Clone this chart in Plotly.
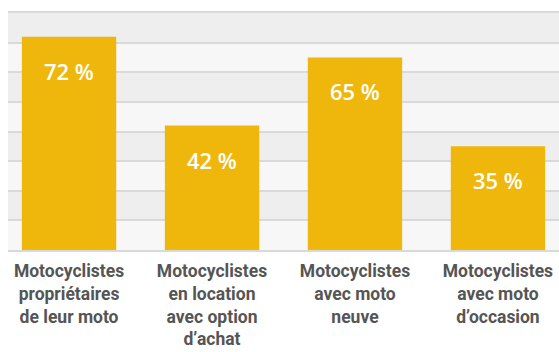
import plotly.graph_objects as go

# Share of motorcyclists by situation (%)
categories = [
    "Motocyclistes<br>propriétaires<br>de leur moto",
    "Motocyclistes<br>en location<br>avec option<br>d’achat",
    "Motocyclistes<br>avec moto<br>neuve",
    "Motocyclistes<br>avec moto<br>d’occasion",
]
values = [72, 42, 65, 35]
value_labels = [f"{v} %" for v in values]

BAR = "#efb70c"
GRID = "#d9d9d9"
BAND_DARK = "#eeeeee"
BAND_LIGHT = "#f7f7f7"
LABEL_FONT = "Roboto, sans-serif"

x = list(range(len(categories)))

fig = go.Figure(
    go.Bar(
        x=x,
        y=values,
        marker=dict(color=BAR, line=dict(width=0)),
        width=0.66,
        hoverinfo="skip",
    )
)

# alternating horizontal bands behind the grid
shapes = []
for lo in range(10, 80, 20):
    shapes.append(dict(
        type="rect", xref="paper", yref="y", x0=0, x1=1, y0=lo, y1=lo + 10,
        fillcolor=BAND_DARK, line=dict(width=0), layer="below",
    ))

annotations = []
for xi, v, lab in zip(x, values, value_labels):
    annotations.append(dict(
        x=xi, y=v, xref="x", yref="y", text=lab, showarrow=False,
        yanchor="top", yshift=-17,
        font=dict(family="Open Sans, sans-serif", size=22, color="white", weight=600),
    ))

fig.update_layout(
    width=559, height=352,
    margin=dict(l=8, r=0, t=13, b=102, autoexpand=False),
    paper_bgcolor="white",
    plot_bgcolor=BAND_LIGHT,
    showlegend=False,
    shapes=shapes,
    annotations=annotations,
    xaxis=dict(
        tickmode="array", tickvals=x, ticktext=categories,
        range=[-0.427, 3.427],
        showgrid=False, zeroline=False, automargin=False,
        showline=True, mirror=True, linecolor=GRID, linewidth=2,
        ticks="", ticklabelstandoff=4, ticklabeloverflow="allow",
        tickfont=dict(family=LABEL_FONT, size=17.5, color="#555555", weight="bold"),
    ),
    yaxis=dict(
        range=[0, 80], dtick=10, tick0=0, automargin=False,
        showgrid=True, gridcolor=GRID, gridwidth=2,
        zeroline=False, showticklabels=False, ticks="",
    ),
)

fig.write_html("out.html")
